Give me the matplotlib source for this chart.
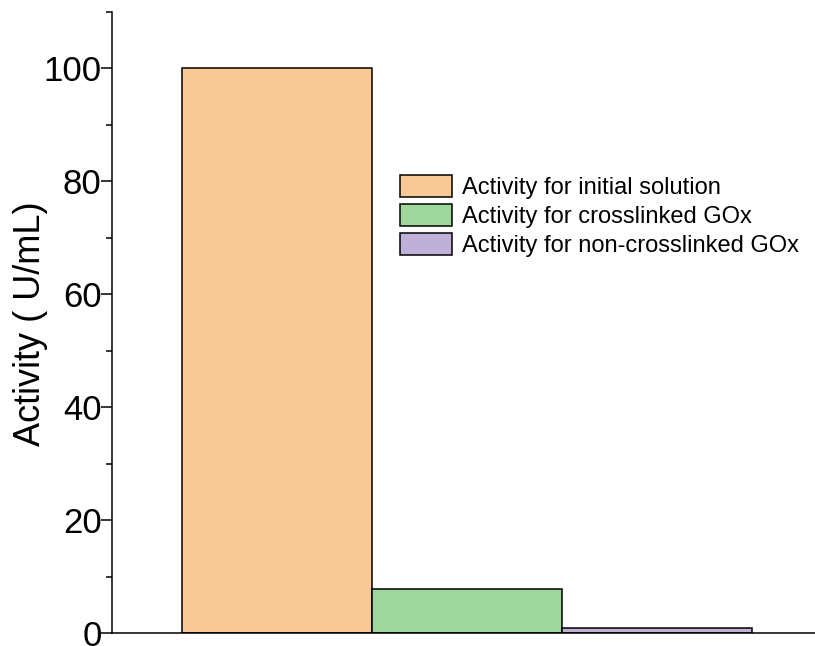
import matplotlib
matplotlib.use("Agg")
import matplotlib.pyplot as plt
from matplotlib.ticker import MultipleLocator

plt.rcParams['font.family'] = ['Liberation Sans', 'DejaVu Sans']

labels = ["Activity for initial solution",
          "Activity for crosslinked GOx",
          "Activity for non-crosslinked GOx"]
values = [100, 7.8, 0.8]
colors = ["#F9C897", "#9FD69B", "#BFB0D8"]

fig = plt.figure(figsize=(8.15, 6.46), dpi=100)
ax = fig.add_axes([0.1374, 0.0201, 0.8626, 0.9613])

for i, (lab, v, c) in enumerate(zip(labels, values, colors)):
    ax.bar(i, v, width=1.0, color=c, edgecolor="black", linewidth=1.1, label=lab)

ax.set_xlim(-0.871, 2.83)
ax.set_ylim(0, 110)
ax.yaxis.set_major_locator(MultipleLocator(20))
ax.yaxis.set_minor_locator(MultipleLocator(10))
ax.set_xticks([])
ax.tick_params(axis='y', which='major', direction='out', length=8, width=1.1,
               labelsize=25, pad=-0.5)
ax.tick_params(axis='y', which='minor', direction='out', length=4, width=1.1)
for s in ['top', 'right']:
    ax.spines[s].set_visible(False)
for s in ['left', 'bottom']:
    ax.spines[s].set_linewidth(1.1)

ax.set_ylabel("Activity ( U/mL)", fontsize=26)
ax.yaxis.set_label_coords(-0.091, 0.498)

leg = ax.legend(loc='upper left', bbox_to_anchor=(0.41, 0.737), frameon=False,
                fontsize=17, handlelength=2.2, handleheight=1.06,
                labelspacing=0.2, handletextpad=0.4, borderaxespad=0,
                borderpad=0)

fig.savefig("out.png", dpi=100)
